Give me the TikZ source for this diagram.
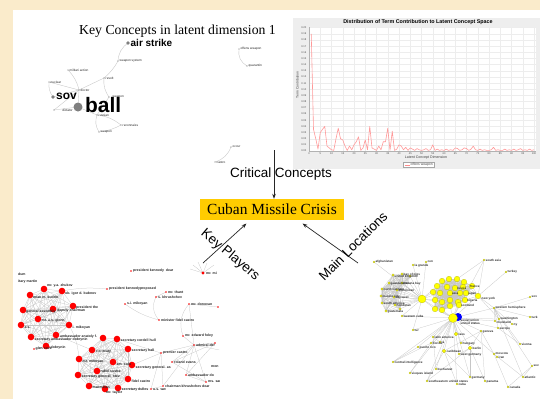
\documentclass[tikz,border=0pt]{standalone}
\usepackage{fontspec}
\setmainfont{Liberation Serif}
\setsansfont{Liberation Sans}
\usetikzlibrary{arrows.meta}
\definecolor{beige}{HTML}{FAEBCB}
\definecolor{chartgray}{HTML}{EEEEEE}
\definecolor{gold}{HTML}{FFCC00}
\definecolor{ylw}{HTML}{FFFF00}
\definecolor{cloudgray}{HTML}{7F7F7F}
\tikzset{
  lab/.style={font=\fontsize{3.5}{4}\selectfont\sffamily\bfseries, inner sep=0, anchor=west, text=black!85},
  slab/.style={font=\fontsize{3.1}{4}\selectfont\sffamily\bfseries, inner sep=0, anchor=west, text=black!80},
  wlab/.style={font=\fontsize{3.2}{4}\selectfont\sffamily, inner sep=0, anchor=west, text=black!85},
  tick/.style={font=\fontsize{2.6}{3}\selectfont\sffamily, inner sep=0, text=black!70},
  edge/.style={draw=gray!45, line width=0.25bp},
  wedge/.style={draw=gray!45, line width=0.35bp},
  gridln/.style={draw=gray!14, line width=0.3bp},
  rdot/.style={circle, fill=red, inner sep=0, minimum size=6.6bp},
  sdot/.style={circle, fill=red, inner sep=0, minimum size=1.7bp},
  ydot/.style={circle, fill=ylw, draw=ylw!65!black, line width=0.15bp, inner sep=0, minimum size=#1},
  cdot/.style={circle, fill=cloudgray, inner sep=0, minimum size=#1},
  bigtxt/.style={font=\fontsize{13.5}{15}\selectfont\sffamily, inner sep=0},
  arr/.style={-{Stealth[length=5bp,width=3.6bp]}, line width=0.7bp, draw=black!85}
}
\begin{document}
\begin{tikzpicture}[x=1bp,y=-1bp]
\useasboundingbox (0,0) rectangle (540,399);
\fill[beige] (0,0) rectangle (540,399);
\fill[white] (13,10) rectangle (540,399);

% ---------------- word cloud ----------------
\node[font=\fontsize{13.8}{15}\selectfont, inner sep=0] (wctitle) at (177.5,31) {Key Concepts in latent dimension 1};
\foreach \n/\x/\y in {as/128/43, ws/118/61, rv/104/78, ma/68/70, nu/49/82, dc/79/90, sv/53/97, wp/109/97, bl/78/107, dt/54/110, ru/97/115, rc/121/125, wq/99/132, ow/239/49, qu/247/66, oc/231/147, ca/215/162}
  \coordinate (w\n) at (\x,\y);
\draw[wedge] (was) to[bend right=25] (wws);
\draw[wedge] (wws) to[bend left=10] (wrv);
\draw[wedge] (wrv) to[bend right=20] (wwp);
\draw[wedge] (wrv) -- (wdc);
\draw[wedge] (wma) to[bend left=15] (wdc);
\draw[wedge] (wnu) -- (wdc);
\draw[wedge] (wnu) to[bend right=20] (wsv);
\draw[wedge] (wsv) -- (wdc);
\draw[wedge] (wbl) -- (wdc);
\draw[wedge] (wbl) -- (wdt);
\draw[wedge] (wdt) -- (wdc);
\draw[wedge] (wbl) -- (wru);
\draw[wedge] (wwp) -- (wru);
\draw[wedge] (wru) to[bend left=15] (wrc);
\draw[wedge] (wru) to[bend right=25] (wwq);
\draw[wedge] (wwq) to[bend right=10] (wrc);
\draw[wedge] (wow) to[bend right=35] (wqu);
\draw[wedge] (woc) to[bend left=25] (wca);
\node[cdot=3.6bp] (wdas) at (was) {};
\node[cdot=3.6bp] (wdsv) at (wsv) {};
\node[cdot=9bp] (wdbl) at (wbl) {};
\foreach \n in {ws,rv,ma,nu,dc,wp,dt,ru,rc,wq,ow,qu,oc,ca}
  \node[cdot=1.1bp] (wd\n) at (w\n) {};
\node[font=\fontsize{10}{11}\selectfont\sffamily\bfseries, inner sep=0, anchor=west] (tas) at (130.5,43) {air strike};
\node[font=\fontsize{12}{13}\selectfont\sffamily\bfseries, inner sep=0, anchor=west] (tsv) at (56,96) {sov};
\node[font=\fontsize{21}{22}\selectfont\sffamily\bfseries, inner sep=0, anchor=base west] (tbl) at (85,112.5) {ball};
\node[wlab] (tws) at (119.5,61) {weapon system};
\node[wlab] (trv) at (105.5,78) {revolt};
\node[wlab] (tma) at (69.5,70) {militari action};
\node[wlab] (tnu) at (50.5,82) {nuclear};
\node[wlab] (tdc) at (80.5,90) {doctor};
\node[wlab] (twp) at (112.5,96.5) {weapon};
\node[wlab, anchor=east] (tdt) at (73,110.5) {dictator};
\node[wlab] (tru) at (98.5,115.5) {russian};
\node[wlab] (trc) at (122.5,125) {reconnaiss};
\node[wlab] (twq) at (100.5,132) {weapon};
\node[wlab] (tow) at (240.5,49) {offens weapon};
\node[wlab] (tqu) at (248.5,66) {quarantin};
\node[wlab] (toc) at (232.5,147) {occur};
\node[wlab] (tca) at (216.5,162) {castro};

% ---------------- chart ----------------
\fill[chartgray] (293,18) rectangle (540,168.5);
\fill[white] (309,27) rectangle (536,151);
\foreach \k in {0,...,20} {
  \draw[gridln] ({309+11.25*\k},27) -- ({309+11.25*\k},151);
  \draw[gridln] (309,{151-6.17*\k}) -- (536,{151-6.17*\k});
}
\draw[draw=gray!60, line width=0.3bp] (309,27) -- (309,151) -- (536,151);
\node[font=\fontsize{5.4}{6}\selectfont\sffamily\bfseries, inner sep=0] (ctitle) at (418,22.3) {Distribution of Term Contribution to Latent Concept Space};
\foreach \k/\t in {0/0.00,1/0.01,2/0.02,3/0.03,4/0.04,5/0.05,6/0.06,7/0.07,8/0.08,9/0.09,10/0.10,11/0.11,12/0.12,13/0.13,14/0.14,15/0.15,16/0.16,17/0.17,18/0.18,19/0.19,20/0.20}
  \node[tick, anchor=east] (yt\k) at (306.5,{151-6.17*\k}) {\t};
\foreach \k/\t in {0/0,1/5,2/10,3/15,4/20,5/25,6/30,7/35,8/40,9/45,10/50,11/55,12/60,13/65,14/70,15/75,16/80,17/85,18/90,19/95,20/100}
  \node[tick] (xt\k) at ({309+11.25*\k},153.6) {\t};
\node[font=\fontsize{3.6}{4}\selectfont\sffamily, inner sep=0, text=black!75] (xlab) at (426,158) {Latent Concept Dimension};
\node[font=\fontsize{3.4}{4}\selectfont\sffamily, inner sep=0, text=black!75, rotate=90] (ylab) at (297.5,85) {Term Contribution};
\node[draw=gray!70, fill=white, line width=0.25bp, inner xsep=1bp, inner ysep=0.8bp, font=\fontsize{3.4}{4}\selectfont\sffamily, text=black!75] (legend) at (418.5,164.5) {\tikz[baseline=-0.6bp]\draw[red!45, line width=0.5bp] (0,0) -- (5bp,0);\ offens weapon};
\begin{scope}[shift={(309,151)}, xscale=2.25, yscale=-617]
\draw[red!40, line width=0.6bp, line join=round] plot coordinates {
(1,0.19) (2,0.035) (3,0.02) (4,0.003) (5,0.03) (6,0.035) (7,0.04) (8,0.008) (9,0.005) (10,0.002)
(11,0.001) (12,0.02) (13,0.037) (14,0.02) (15,0.018) (16,0.008) (17,0.001) (18,0.008) (19,0.002) (20,0.01)
(21,0.015) (22,0.023) (23,0.001) (24,0.005) (25,0.018) (26,0.002) (27,0.04) (28,0.005) (29,0.003) (30,0.001)
(31,0.008) (32,0.002) (33,0.015) (34,0.015) (35,0.037) (36,0.001) (37,0.032) (38,0.001) (39,0.003) (40,0.01)
(41,0.008) (42,0.002) (43,0.006) (44,0.001) (45,0.005) (46,0.003) (47,0.001) (48,0.004) (49,0.002) (50,0.001)
(51,0.002) (52,0.004) (53,0.001) (54,0.002) (55,0.01) (56,0.001) (57,0.003) (58,0.001) (59,0.002) (60,0.001)
(61,0.003) (62,0.001) (63,0.002) (64,0.001) (65,0.005) (66,0.004) (67,0.001) (68,0.002) (69,0.005) (70,0.004)
(71,0.001) (72,0.003) (73,0.008) (74,0.002) (75,0.001) (76,0.003) (77,0.001) (78,0.002) (79,0.001) (80,0.001)
(81,0.002) (82,0.006) (83,0.001) (84,0.002) (85,0.001) (86,0.001) (87,0.003) (88,0.001) (89,0.002) (90,0.001)
(91,0.003) (92,0.001) (93,0.002) (94,0.004) (95,0.001) (96,0.002) (97,0.001) (98,0.003) (99,0.001) (100,0.002)};
\end{scope}

% ---------------- centre ----------------
\node[fill=gold, minimum width=144bp, minimum height=21bp, inner sep=0, font=\fontsize{15.5}{17}\selectfont] (cmc) at (272,209.5) {Cuban Missile Crisis};
\coordinate (ccS) at (274,150);
\draw[arr] (ccS) -- (cmc.north -| ccS);
\node[bigtxt] (cclab) at (281,174.5) {Critical Concepts};
\coordinate (kpS) at (203,263);
\coordinate (kpT) at (246.5,223.5);
\draw[arr] (kpS) -- (kpT);
\node[bigtxt, rotate=-40] (kplab) at (230,255) {Key Players};
\coordinate (mlS) at (358,263);
\coordinate (mlT) at (302.5,223.5);
\draw[arr] (mlS) -- (mlT);
\node[bigtxt, rotate=45] (mllab) at (353,246) {Main Locations};

% ---------------- key players network ----------------
\begin{scope}
\clip (13,262) rectangle (219,399);
\foreach \n/\x/\y in {1/44/289, 2/62/291, 3/30/295, 4/73/306, 5/23/310, 6/53/309, 7/38/319, 8/69/325, 9/21/325, 10/56/335, 11/31/337, 12/46/346}
  \coordinate (a\n) at (\x,\y);
\foreach \n/\x/\y in {1/103/338, 2/117/339, 3/128/349, 4/92/350, 5/79/359, 6/113/362, 7/132/365, 8/97/371, 9/78/375, 10/128/379, 11/89/386, 12/105/389, 13/118/388}
  \coordinate (b\n) at (\x,\y);
\foreach \n/\x/\y in {pkd/131/271, mrm/203/273, pkp/107/289, tha/166/292, skh/156/297, sim/125/304, don/189/304, xa/218/307, mfc/159/320, efo/183/336, adm/194/345, xb/215/343, pca/161/353, rev/172/362, amb/186/375, msa/206/382, ckd/163/386, usw/151/389, gco/34/349, dob/49/347, xr/230/352}
  \coordinate (p\n) at (\x,\y);
\foreach \n/\x/\y in {1/193/265, 2/198/262, 3/207/263, 4/214/265, 5/190/269}
  \coordinate (f\n) at (\x,\y);
\foreach \i in {1,...,11} {
  \pgfmathtruncatemacro\j{\i+1}
  \foreach \k in {\j,...,12} \draw[edge] (a\i) -- (a\k);
}
\foreach \i in {1,...,12} {
  \pgfmathtruncatemacro\j{\i+1}
  \foreach \k in {\j,...,13} \draw[edge] (b\i) -- (b\k);
}
\draw[edge] (a8) to[bend left=12] (b5);
\draw[edge] (a10) -- (b4);
\draw[edge] (a12) -- (pgco);
\draw[edge] (a12) -- (pdob);
\draw[edge] (a2) to[bend left=8] (ppkp);
\draw[edge] (pskh) to[bend right=35] (pmfc);
\draw[edge] (psim) to[bend right=10] (pmfc);
\draw[edge] (ptha) -- (pskh);
\draw[edge] (pdon) to[bend right=30] (pefo);
\draw[edge] (pdon) -- (pxa);
\draw[edge] (pdon) -- (padm);
\draw[edge] (pefo) -- (padm);
\draw[edge] (padm) -- (ppca);
\draw[edge] (padm) -- (prev);
\draw[edge] (padm) -- (pamb);
\draw[edge] (padm) -- (pckd);
\draw[edge] (padm) -- (pmsa);
\draw[edge] (padm) -- (pxb);
\draw[edge] (padm) -- (pxr);
\draw[edge] (pxb) -- (prev);
\draw[edge] (pxb) -- (pamb);
\draw[edge] (prev) -- (pmsa);
\draw[edge] (pamb) -- (pmsa);
\draw[edge] (ppca) -- (pckd);
\draw[edge] (ppca) -- (pusw);
\draw[edge] (b2) -- (ppca);
\draw[edge] (b7) -- (ppca);
\draw[edge] (b13) -- (pusw);
\draw[edge] (pusw) -- (pckd);
\foreach \n in {1,...,5} \draw[edge] (pmrm) -- (f\n);
\foreach \n in {1,...,12} \node[rdot] (ad\n) at (a\n) {};
\foreach \n in {1,...,13} \node[rdot] (bd\n) at (b\n) {};
\foreach \n in {pkd,pkp,tha,skh,sim,don,xa,mfc,efo,adm,xb,pca,rev,amb,msa,ckd,usw,gco,dob}
  \node[sdot] (pd\n) at (p\n) {};
\node[circle, fill=red, inner sep=0, minimum size=3.4bp] (pdmrm) at (pmrm) {};
% labels
\node[lab] (k1) at (18,274) {dum};
\node[lab] (k2) at (18,282) {itary martin};
\node[lab] (k3) at (47,286) {mr. y.a. zhukov};
\node[lab] (k4) at (65,293.5) {ob. igor d. bubnov};
\node[lab] (k5) at (33,297.5) {mian m. kudrin};
\node[lab] (k6) at (76,307.5) {president the};
\node[lab] (k7) at (26,311.5) {general assembly};
\node[lab] (k8) at (57,311) {deputy chairman};
\node[lab] (k9) at (41.5,320.5) {mr. a.s. glenn};
\node[lab] (k10) at (24.5,327.5) {a.s.};
\node[lab] (k11) at (72.5,327.5) {i. mikoyan};
\node[lab] (k12) at (34.5,339.5) {secretary ambassador dobrynin};
\node[lab] (k13) at (60,336.5) {ambassador anatoly f.};
\node[lab] (k14) at (35.5,349) {glen cove};
\node[lab] (k15) at (50.5,347.5) {dobrynin};
\node[lab] (k16) at (120.5,341) {secretary cordell hull};
\node[lab] (k17) at (96,352) {rio treaty};
\node[lab] (k18) at (131.5,351) {secretary hall};
\node[lab] (k19) at (82.5,361.5) {mr. mikoyan};
\node[lab] (k20) at (116.5,364.5) {am. colo};
\node[lab] (k21) at (135.5,367.5) {secretary general. as};
\node[lab] (k22) at (100.5,371) {rabol sustra};
\node[lab] (k23) at (81.5,376.5) {secretary general. stev};
\node[lab] (k24) at (131.5,381.5) {fidel castro};
\node[lab] (k25) at (92.5,387.5) {macmillan};
\node[lab] (k26) at (106,392.5) {mr. taylor};
\node[lab] (k27) at (121.5,390) {secretary dulles};
\node[lab] (k28) at (133,271) {president kennedy\ \ dear};
\node[lab] (k29) at (206,273.5) {mr. mi};
\node[lab] (k30) at (109,289) {president kennedyproposed};
\node[lab] (k31) at (168,292) {mr. thant};
\node[lab] (k32) at (158,297) {s. khrushchev};
\node[lab] (k33) at (127,304) {s.i. mikoyan};
\node[lab] (k34) at (191,304) {mr. donovan};
\node[lab] (k35) at (161,320) {minister fidel castro};
\node[lab] (k36) at (185,336) {mr. edward foley};
\node[lab] (k37) at (196,345) {admiral der};
\node[lab] (k38) at (163,353) {premier castro};
\node[lab] (k39) at (174,362) {roland evans};
\node[lab] (k40) at (211,367) {mon};
\node[lab] (k41) at (188,375) {ambassador do};
\node[lab] (k42) at (208,382) {ms. sar};
\node[lab] (k43) at (165,386) {chairman khrushchev dear};
\node[lab] (k44) at (153,389.5) {u.s. ww};
\end{scope}

% ---------------- locations network ----------------
\begin{scope}
\clip (357,255) rectangle (540,399);
\foreach \n/\x/\y in {1/393/275, 2/402/274, 3/410/276, 4/389/283, 5/402/283, 6/397/290, 7/382/289, 8/381/296, 9/394/297, 10/382/303, 11/395/305, 12/386/311, 13/400/309}
  \coordinate (l\n) at (\x,\y);
\foreach \n/\x/\y in {1/442/281, 2/449/279, 3/457/279, 4/464/282, 5/437/286, 6/447/287, 7/455/288, 8/463/287, 9/472/286, 10/433/292, 11/440/293, 12/450/293, 13/460/293, 14/466/293, 15/435/300, 16/442/302, 17/450/300, 18/458/302, 19/465/300, 20/435/309, 21/442/310, 22/450/306, 23/459/305}
  \coordinate (r\n) at (\x,\y);
\foreach \n/\x/\y in {ha/422/299, hb/453/318, bu/458/317, ny/478/296, afg/374/262, cen/426/262, lag/413/265, sas/484/260, tky/506/272, wh/494/308, wsh/499/319, clv/495/321, nyc/512/324, eur/498/328, gen/481/331, sov/530/297, trk/530/317, wcu/402/316, tur/413/330, lao/456/334, lam/433/337, la/440/342, fla/431/343, pr/418/347, car/444/351, hun/461/343, ber/470/348, wge/459/354, vie/520/344, mos/494/354, irn/497/357, cia/393/362, buc/436/369, vqs/410/373, ger/470/377, sus/427/381, pan/485/381, cub/457/384, atl/523/377, can/508/387, re/532/366}
  \coordinate (q\n) at (\x,\y);
\foreach \i in {1,...,12} {
  \pgfmathtruncatemacro\j{\i+1}
  \foreach \k in {\j,...,13} \draw[edge] (l\i) -- (l\k);
}
\foreach \i in {1,...,22} {
  \pgfmathtruncatemacro\j{\i+1}
  \foreach \k in {\j,...,23} \draw[edge] (r\i) -- (r\k);
}
\foreach \n in {1,...,13} \draw[edge] (qha) -- (l\n);
\foreach \n in {5,10,15,20,11,16} \draw[edge] (qha) -- (r\n);
\foreach \n in {20,21,22,23,18} \draw[edge] (qhb) -- (r\n);
\foreach \n in {4,9,14,19,8} \draw[edge] (qny) -- (r\n);
\draw[edge] (qsas) -- (r3);
\foreach \n in {afg,cen,lag,wcu,hb,tur}
  \draw[edge] (qha) -- (q\n);
\foreach \n in {wh,wsh,clv,eur,gen,lao,lam,la,fla,pr,car,hun,ber,wge,cia,buc,vqs,sus,cub,ger,mos,tur,wcu,sas,ny}
  \draw[edge] (qhb) -- (q\n);
\foreach \n in {tky,wh,sas,wsh}
  \draw[edge] (qny) -- (q\n);
\foreach \n in {sov,trk,wsh,clv,nyc,eur,vie,atl,re}
  \draw[edge] (qwh) -- (q\n);
\foreach \a/\b in {gen/mos, gen/ber, gen/car, mos/irn, mos/can, mos/atl, ber/ger, ber/pan, ber/wge, ber/sus, car/sus, car/cub, car/ger, lam/buc, lam/la, fla/vqs, fla/cia, pr/cia, re/atl, re/can, eur/vie, gen/pan}
  \draw[edge] (q\a) -- (q\b);
\foreach \n in {1,...,13} \node[ydot=2.4bp] (ld\n) at (l\n) {};
\foreach \n in {1,...,23} \node[ydot=5.6bp] (rd\n) at (r\n) {};
\foreach \n in {afg,cen,lag,sas,wh,wsh,clv,nyc,eur,gen,wcu,tur,lam,la,fla,pr,hun,wge,vie,mos,irn,cia,buc,vqs,ger,sus,pan,cub,atl,can,re,sov,trk,tky}
  \node[ydot=1.9bp] (qd\n) at (q\n) {};
\foreach \n in {lao,car,ber}
  \node[ydot=3.6bp] (qd\n) at (q\n) {};
\node[ydot=5.6bp] (qdny) at (qny) {};
\node[ydot=8bp] (qdha) at (qha) {};
\node[circle, fill=blue, inner sep=0, minimum size=8bp] (qdbu) at (qbu) {};
\node[ydot=9bp] (qdhb) at (qhb) {};
% labels
\node[slab] (m1) at (375.5,262) {afghanistan};
\node[slab] (m2) at (427.5,262) {cen};
\node[slab] (m3) at (414.5,265.5) {la grande};
\node[slab] (m4) at (485.5,260) {south asia};
\node[slab] (m5) at (507.5,272) {turkey};
\node[slab] (m6) at (481.5,299) {new york};
\node[slab] (m7) at (495.5,308) {western hemisphere};
\node[slab] (m8) at (500.5,319) {washington};
\node[slab] (m9) at (496.5,322) {cleveland};
\node[slab] (m10) at (513.5,324.5) {ny};
\node[slab] (m11) at (499.5,328.5) {europe};
\node[slab] (m12) at (482.5,331.5) {geneva};
\node[slab] (m13) at (531.5,297) {sov};
\node[slab] (m14) at (531.5,317) {turk};
\node[slab] (m15) at (403.5,316.5) {western cuba};
\node[slab] (m16) at (414.5,330.5) {tur};
\node[slab] (m17) at (458.5,334.5) {laos};
\node[slab] (m18) at (434.5,337.5) {latin america};
\node[slab] (m19) at (441.5,342.5) {la};
\node[slab] (m20) at (432.5,343.5) {florida};
\node[slab] (m21) at (419.5,347.5) {puerto rico};
\node[slab] (m22) at (446.5,351.5) {caribbean};
\node[slab] (m23) at (462.5,343.5) {hungary};
\node[slab] (m24) at (472.5,348.5) {berlin};
\node[slab] (m25) at (460.5,354.5) {west germany};
\node[slab] (m26) at (521.5,344.5) {vienna};
\node[slab] (m27) at (495.5,354) {moscow};
\node[slab] (m28) at (498.5,357.5) {iran};
\node[slab] (m29) at (394.5,362.5) {central intelligence};
\node[slab] (m30) at (437.5,369.5) {bucharest};
\node[slab] (m31) at (411.5,373.5) {vieques island};
\node[slab] (m32) at (471.5,377.5) {germany};
\node[slab] (m33) at (428.5,381.5) {southeastern united states};
\node[slab] (m34) at (486.5,381.5) {panama};
\node[slab] (m35) at (458.5,384.5) {cuba};
\node[slab] (m36) at (524.5,377.5) {atlantic};
\node[slab] (m37) at (509.5,387.5) {canada};
\node[slab] (m38) at (533.3,366) {sov};
\node[slab] (m39) at (460.5,320.5) {soviet union};
\node[slab] (m40) at (460.5,323.5) {united states};
\node[slab] (m41) at (403.5,274.5) {bay of pigs};
\node[slab] (m42) at (394.5,277) {united kingdom};
\node[slab] (m43) at (390.5,283.5) {guantanamo};
\node[slab] (m44) at (403.5,283.5) {havana bay};
\node[slab] (m45) at (398.5,290.5) {dominican};
\node[slab] (m46) at (383.5,289.5) {north vietnam};
\node[slab] (m47) at (382.5,296.5) {mexico city};
\node[slab] (m48) at (395.5,297.5) {key west};
\node[slab] (m49) at (383.5,303.5) {south america};
\node[slab] (m50) at (396.5,305.5) {honduras};
\node[slab] (m51) at (387.5,311.5) {guatemala};
\node[slab] (m52) at (470,286.5) {france};
\node[slab] (m53) at (468,293.5) {japan};
\node[slab] (m54) at (467,301) {nigeria};
\node[slab] (m55) at (461,305.5) {scotland};
\node[slab] (m56) at (452,293.5) {asia};
\node[slab] (m57) at (457,288.5) {russia};
\end{scope}
\end{tikzpicture}
\end{document}
